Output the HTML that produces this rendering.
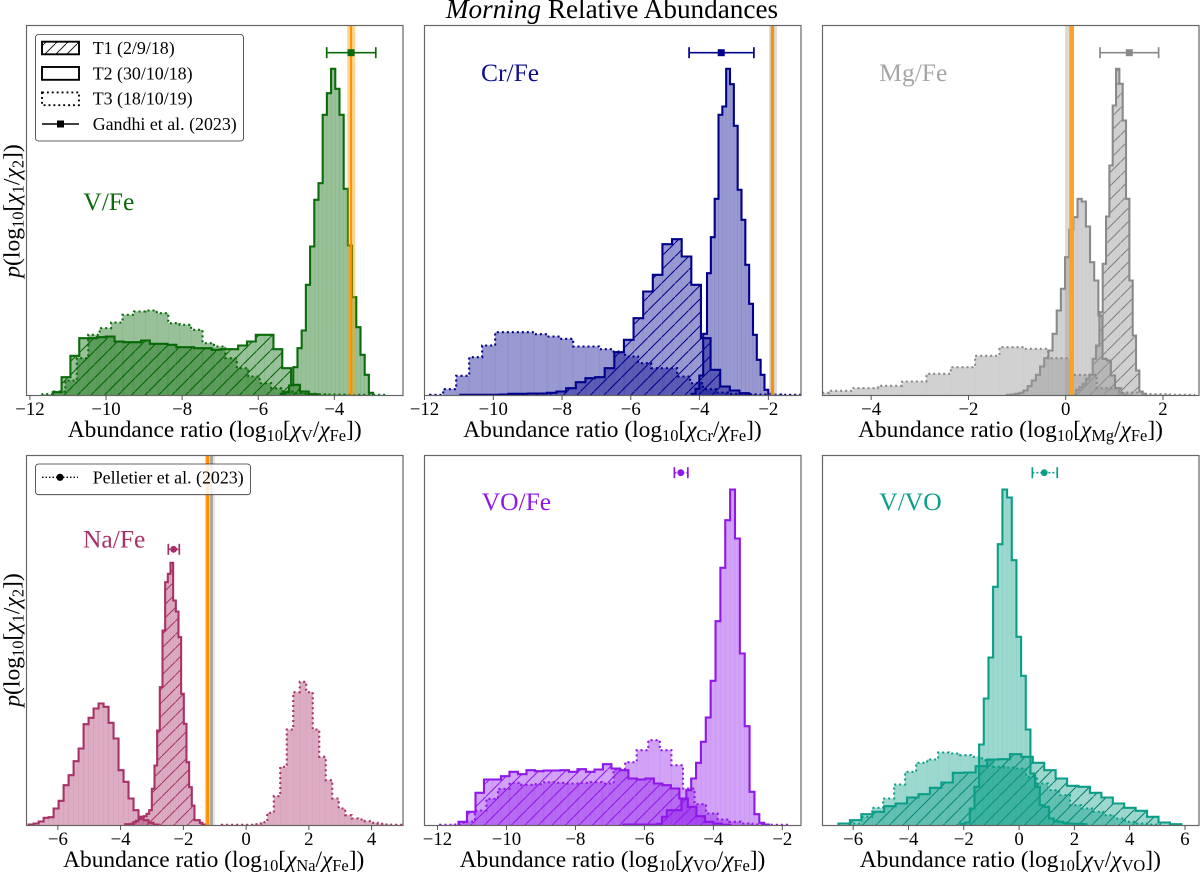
<!DOCTYPE html>
<html lang="en">
<head>
<meta charset="utf-8">
<title>Morning Relative Abundances</title>
<style>
html,body{margin:0;padding:0;background:#fff;}
svg{display:block;font-family:"Liberation Serif","DejaVu Serif",serif;}
</style>
</head>
<body>
<svg id="figure" xmlns="http://www.w3.org/2000/svg" width="1200" height="873" viewBox="0 0 1200 873">
  <defs>
    <pattern id="hatch-black" patternUnits="userSpaceOnUse" width="11" height="11"><path d="M-1 12L12 -1" stroke="#000" stroke-width="0.9" fill="none"/></pattern>
  </defs>
  <rect width="1200" height="873" fill="#fff"/>
  <text x="612" y="18" text-anchor="middle" font-size="27.2" fill="#000"><tspan font-style="italic">Morning</tspan> Relative Abundances</text>
  <g id="panels"></g>

  <g font-size="23.4" fill="#000" text-anchor="middle">
    <text x="214.7" y="437">Abundance ratio (log<tspan font-size="16.4" dy="4">10</tspan><tspan dy="-4">[</tspan><tspan font-style="italic">χ</tspan><tspan font-size="16.4" dy="4">V</tspan><tspan dy="-4">/</tspan><tspan font-style="italic">χ</tspan><tspan font-size="16.4" dy="4">Fe</tspan><tspan dy="-4">])</tspan></text>
    <text x="612.5" y="437">Abundance ratio (log<tspan font-size="16.4" dy="4">10</tspan><tspan dy="-4">[</tspan><tspan font-style="italic">χ</tspan><tspan font-size="16.4" dy="4">Cr</tspan><tspan dy="-4">/</tspan><tspan font-style="italic">χ</tspan><tspan font-size="16.4" dy="4">Fe</tspan><tspan dy="-4">])</tspan></text>
    <text x="1010.5" y="437">Abundance ratio (log<tspan font-size="16.4" dy="4">10</tspan><tspan dy="-4">[</tspan><tspan font-style="italic">χ</tspan><tspan font-size="16.4" dy="4">Mg</tspan><tspan dy="-4">/</tspan><tspan font-style="italic">χ</tspan><tspan font-size="16.4" dy="4">Fe</tspan><tspan dy="-4">])</tspan></text>
    <text x="213.7" y="867">Abundance ratio (log<tspan font-size="16.4" dy="4">10</tspan><tspan dy="-4">[</tspan><tspan font-style="italic">χ</tspan><tspan font-size="16.4" dy="4">Na</tspan><tspan dy="-4">/</tspan><tspan font-style="italic">χ</tspan><tspan font-size="16.4" dy="4">Fe</tspan><tspan dy="-4">])</tspan></text>
    <text x="612.5" y="867">Abundance ratio (log<tspan font-size="16.4" dy="4">10</tspan><tspan dy="-4">[</tspan><tspan font-style="italic">χ</tspan><tspan font-size="16.4" dy="4">VO</tspan><tspan dy="-4">/</tspan><tspan font-style="italic">χ</tspan><tspan font-size="16.4" dy="4">Fe</tspan><tspan dy="-4">])</tspan></text>
    <text x="1010.3" y="867">Abundance ratio (log<tspan font-size="16.4" dy="4">10</tspan><tspan dy="-4">[</tspan><tspan font-style="italic">χ</tspan><tspan font-size="16.4" dy="4">V</tspan><tspan dy="-4">/</tspan><tspan font-style="italic">χ</tspan><tspan font-size="16.4" dy="4">VO</tspan><tspan dy="-4">])</tspan></text>
  </g>
  <g font-size="23.6" fill="#000" text-anchor="middle">
    <text transform="translate(19.5,211) rotate(-90)"><tspan font-style="italic">p</tspan>(log<tspan font-size="16.4" dy="4">10</tspan><tspan dy="-4">[</tspan><tspan font-style="italic">χ</tspan><tspan font-size="16.4" dy="4">1</tspan><tspan dy="-4">/</tspan><tspan font-style="italic">χ</tspan><tspan font-size="16.4" dy="4">2</tspan><tspan dy="-4">])</tspan></text>
    <text transform="translate(19.5,640) rotate(-90)"><tspan font-style="italic">p</tspan>(log<tspan font-size="16.4" dy="4">10</tspan><tspan dy="-4">[</tspan><tspan font-style="italic">χ</tspan><tspan font-size="16.4" dy="4">1</tspan><tspan dy="-4">/</tspan><tspan font-style="italic">χ</tspan><tspan font-size="16.4" dy="4">2</tspan><tspan dy="-4">])</tspan></text>
  </g>

  <g font-size="17.9" fill="#000">
    <rect x="35.5" y="34.5" width="208" height="106.5" rx="3" fill="#fff" fill-opacity="0.85" stroke="#333" stroke-width="0.8"/>
    <rect x="42" y="41.7" width="37" height="12.6" fill="url(#hatch-black)" stroke="#000" stroke-width="1.9"/>
    <text x="92.7" y="54">T1 (2/9/18)</text>
    <rect x="42" y="67" width="37" height="12.8" fill="none" stroke="#000" stroke-width="1.9"/>
    <text x="92.7" y="79.3">T2 (30/10/18)</text>
    <rect x="42" y="92.4" width="37" height="12.8" fill="none" stroke="#000" stroke-width="1.9" stroke-dasharray="1.9 3"/>
    <text x="92.7" y="104.7">T3 (18/10/19)</text>
    <line x1="42" x2="79" y1="124" y2="124" stroke="#000" stroke-width="1.4"/>
    <rect x="57" y="120.5" width="7" height="7" fill="#000"/>
    <text x="92.7" y="130">Gandhi et al. (2023)</text>
  </g>
  <g font-size="17.9" fill="#000">
    <rect x="35.5" y="464" width="215" height="30.7" rx="3" fill="#fff" fill-opacity="0.85" stroke="#333" stroke-width="0.8"/>
    <line x1="42" x2="78" y1="477.3" y2="477.3" stroke="#000" stroke-width="1.4" stroke-dasharray="1.5 2"/>
    <circle cx="60" cy="477.3" r="3.6" fill="#000"/>
    <text x="92.7" y="483.3">Pelletier et al. (2023)</text>
  </g>
</svg>
<script>
// ---- V/Fe ----
const vFeDomain = [-12.09, -2.195];
const vFeTicks = [-12, -10, -8, -6, -4];
const vFeT1Bins = [-11.40, 0.232];
const vFeT1 = [10,55,119,172,172,175,177,162,160,160,165,155,155,152,145,145,142,142,137,139,139,150,162,182,182,139,82,32,12,4];
const vFeT2Bins = [-5.41, 0.1104];
const vFeT2 = [5,10,30,85,142,195,332,447,587,637,842,907,980,920,842,620,450,295,205,122,62,8];
const vFeT3Bins = [-11.67, 0.3005];
const vFeT3 = [4,12,45,112,182,202,219,242,252,255,247,217,212,197,157,147,112,82,57,37,22,12,8,5,4,3,3,2,2,2];
const vFeBandRanges = [[-3.66, -3.45], [-3.587, -3.535]];
const vFeBandColors = ['#ffa500', '#ff8c00'];
const vFeBandOpacities = [0.45, 0.95];
const vFeRetrieval = [-4.2, -3.56, -2.91];

// ---- Cr/Fe ----
const crFeDomain = [-12, -1.05];
const crFeTicks = [-12, -10, -8, -6, -4, -2];
const crFeT1Bins = [-10.96, 0.28];
const crFeT1 = [2,2,2,2,3,5,5,6,6,8,12,22,40,52,55,82,130,167,232,312,362,454,469,417,332,172,77,27,15,7];
const crFeT2Bins = [-4.229, 0.1114];
const crFeT2 = [5,20,60,185,367,475,590,842,867,980,934,809,617,527,392,275,182,107,62,17,5];
const crFeT3Bins = [-11.835, 0.378];
const crFeT3 = [2,19,59,115,150,190,190,190,184,177,170,147,147,139,132,117,97,82,82,57,37,19,9,5,4,3,3,2,2];
const crFeBandRanges = [[-1.98, -1.75], [-1.93, -1.83]];
const crFeBandColors = ['#999999', '#f0900f'];
const crFeBandOpacities = [0.35, 0.95];
const crFeRetrieval = [-4.305, -3.37, -2.42];

// ---- Mg/Fe ----
const mgFeDomain = [-5, 2.74];
const mgFeTicks = [-4, -2, 0, 2];
const mgFeT1Bins = [0.144, 0.0685];
const mgFeT1 = [3,17,25,35,50,62,110,150,250,395,537,690,870,980,935,825,590,345,180,75,12,5];
const mgFeT2Bins = [-1.212, 0.0856];
const mgFeT2 = [2,3,5,8,15,28,45,62,87,112,135,185,255,320,415,497,535,590,582,507,400,345,240,110,105,60,22,7,2];
const mgFeT3Bins = [-5.363, 0.5];
const mgFeT3 = [8,14,22,29,42,65,85,119,145,140,112,62,22,9,4,2];
const mgFeBandRanges = [[-0.014, 0.17], [0.074, 0.17]];
const mgFeBandColors = ['#999999', '#ffa01e'];
const mgFeBandOpacities = [0.35, 0.95];
const mgFeRetrieval = [0.705, 1.307, 1.91];

// ---- Na/Fe ----
const naFeDomain = [-7, 5];
const naFeTicks = [-6, -4, -2, 0, 2, 4];
const naFeT1Bins = [-3.854, 0.0849];
const naFeT1 = [4,4,5,10,14,20,26,28,35,46,110,180,285,415,585,730,755,788,675,642,565,395,305,190,115,60,16,16,8,3];
const naFeT2Bins = [-6.932, 0.1592];
const naFeT2 = [3,6,12,23,25,51,74,121,151,193,231,304,323,351,366,356,308,261,166,131,81,46,26,16,8,3];
const naFeT3Bins = [-0.775, 0.207];
const naFeT3 = [2,2,2,2,2,4,10,38,88,176,288,400,431,400,288,206,136,81,51,31,21,18,13,8,5,3,2,2];
const naFeBandRanges = [[-1.146, -0.987], [-1.146, -1.06], [-1.315, -1.146], [-1.275, -1.18]];
const naFeBandColors = ['#aaaaaa', '#888888', '#ffa500', '#ff8c00'];
const naFeBandOpacities = [0.3, 0.7, 0.5, 0.95];
const naFeRetrieval = [-2.48, -2.31, -2.13];

// ---- VO/Fe ----
const voFeDomain = [-12.377, -1.458];
const voFeTicks = [-12, -10, -8, -6, -4, -2];
const voFeT1Bins = [-11.391, 0.2464];
const voFeT1 = [11,41,98,138,138,148,161,154,166,163,165,165,166,161,169,161,168,184,171,166,141,138,141,126,121,111,81,56,28,11,6,2];
const voFeT2Bins = [-6.618, 0.1411];
const voFeT2 = [3,3,3,3,3,3,3,5,26,46,46,46,80,106,141,188,251,324,434,613,773,916,1008,861,516,298,101,34,8,3];
const voFeT3Bins = [-11.923, 0.3353];
const voFeT3 = [2,3,12,45,80,110,128,122,124,130,128,126,128,130,126,168,190,226,256,226,181,111,64,36,18,11,6,3,2,2];
const voFeBandRanges = [];
const voFeBandColors = [];
const voFeBandOpacities = [];
const voFeRetrieval = [-5.13, -4.945, -4.74];

// ---- V/VO ----
const vVoDomain = [-7.108, 6.506];
const vVoTicks = [-6, -4, -2, 0, 2, 4, 6];
const vVoT1Bins = [-6.53, 0.4133];
const vVoT1 = [6,16,34,41,58,66,84,94,113,129,158,159,178,198,199,214,206,188,166,141,119,116,98,84,66,53,44,26,9,4];
const vVoT2Bins = [-2.12, 0.1687];
const vVoT2 = [5,9,51,116,243,381,504,716,844,1008,984,796,566,449,288,156,116,61,56,21,13,11,8,6,5,5,4];
const vVoT3Bins = [-6.108, 0.3976];
const vVoT3 = [6,26,53,81,123,161,188,198,219,216,211,206,196,176,174,171,146,126,106,91,61,51,41,31,21,11,6,3];
const vVoBandRanges = [];
const vVoBandColors = [];
const vVoBandOpacities = [];
const vVoRetrieval = [0.48, 0.91, 1.38];

const densityMax = 1110;
const NS = 'http://www.w3.org/2000/svg';
const root = document.getElementById('panels');
const defs = document.querySelector('#figure defs');

function make(tag, attrs, parent) {
  const el = document.createElementNS(NS, tag);
  for (const k in attrs) el.setAttribute(k, attrs[k]);
  parent.appendChild(el);
  return el;
}

function drawHistogram(g, key, bins, values, xScale, yScale, p, kind) {
  const start = bins[0], width = bins[1];
  const series = make('g', {}, g);
  
  
  const base = yScale(0);
  let d = 'M' + xScale(start).toFixed(2) + ' ' + base;
  values.forEach(function (v, i) {
    const x0 = xScale(start + i * width), x1 = xScale(start + (i + 1) * width), y = yScale(v);
    const bar = make('rect', {x: x0.toFixed(2), y: y.toFixed(2), width: (x1 - x0).toFixed(2), height: (base - y).toFixed(2), fill: p.fill, 'fill-opacity': p.alpha, stroke: p.fill, 'stroke-opacity': 0.07, 'stroke-width': 0.6}, series);
    
    
    d += 'L' + x0.toFixed(2) + ' ' + y.toFixed(2) + 'L' + x1.toFixed(2) + ' ' + y.toFixed(2);
  });
  d += 'L' + xScale(start + values.length * width).toFixed(2) + ' ' + base;
  if (kind === 'hatched') {
    const hatch = make('path', {d: d + 'Z', fill: 'url(#hatch-' + p.key + ')', stroke: 'none'}, series);
    
    
  }
  const attrs = {d: d, fill: 'none', stroke: p.line, 'stroke-width': 2.1, 'stroke-linejoin': 'miter'};
  if (kind === 'dotted') attrs['stroke-dasharray'] = '2 3';
  const outline = make('path', attrs, series);
  
  
}

function drawPanel(p) {
  const W = 376.5, H = 370;
  const xScale = function (v) { return p.left + (v - p.domain[0]) / (p.domain[1] - p.domain[0]) * W; };
  const yScale = function (v) { return p.top + H - v / densityMax * H; };
  const pat = make('pattern', {id: 'hatch-' + p.key, patternUnits: 'userSpaceOnUse', width: 13.5, height: 13.5}, defs);
  make('path', {d: 'M-1 14.5L14.5 -1', stroke: p.hatch, 'stroke-width': 1, fill: 'none'}, pat);
  const clip = make('clipPath', {id: 'clip-' + p.key}, defs);
  make('rect', {x: p.left, y: p.top, width: W, height: H}, clip);

  const g = make('g', {}, root);
  
  
  const plot = make('g', {'clip-path': 'url(#clip-' + p.key + ')'}, g);
  
  

  drawHistogram(plot, 't1', p.t1Bins, p.t1, xScale, yScale, p, 'hatched');
  drawHistogram(plot, 't2', p.t2Bins, p.t2, xScale, yScale, p, 'solid');
  drawHistogram(plot, 't3', p.t3Bins, p.t3, xScale, yScale, p, 'dotted');

  p.bands.forEach(function (b, i) {
    const band = make('rect', {x: xScale(b[0]).toFixed(2), y: p.top, width: (xScale(b[1]) - xScale(b[0])).toFixed(2), height: H, fill: p.bandColors[i], 'fill-opacity': p.bandOpacities[i]}, plot);
    
    
  });

  const frame = make('rect', {x: p.left, y: p.top, width: W, height: H, fill: 'none', stroke: '#666', 'stroke-width': 1.2}, g);
  
  

  p.ticks.forEach(function (t) {
    const x = xScale(t);
    const tick = make('line', {x1: x, x2: x, y1: p.top + H, y2: p.top + H + 4.5, stroke: '#444', 'stroke-width': 0.9}, g);
    
    
    const label = make('text', {x: x, y: p.top + H + 19.5, 'text-anchor': 'middle', 'font-size': 18.8, fill: '#000'}, g);
    
    
    label.textContent = String(t).replace('-', '\u2212');
  });

  const e = p.retrieval, y = p.errorY;
  const bar = make('g', {stroke: p.line, fill: p.line}, g);
  
  
  const lineAttrs = {x1: xScale(e[0]), x2: xScale(e[2]), y1: y, y2: y, 'stroke-width': 1.7};
  if (p.errorDotted) lineAttrs['stroke-dasharray'] = '2 2';
  make('line', lineAttrs, bar);
  make('line', {x1: xScale(e[0]), x2: xScale(e[0]), y1: y - 5.5, y2: y + 5.5, 'stroke-width': 1.7}, bar);
  make('line', {x1: xScale(e[2]), x2: xScale(e[2]), y1: y - 5.5, y2: y + 5.5, 'stroke-width': 1.7}, bar);
  if (p.errorDotted) {
    make('circle', {cx: xScale(e[1]), cy: y, r: 3.4, stroke: 'none'}, bar);
  } else {
    make('rect', {x: xScale(e[1]) - 3.5, y: y - 3.5, width: 7, height: 7, stroke: 'none'}, bar);
  }

  const name = make('text', {x: p.labelX, y: p.labelY, 'font-size': 25.5, fill: p.text}, g);
  
  
  name.textContent = p.label;
}

drawPanel({key:'v-fe', label:'V/Fe', left:26.5, top:25.5, fill:'#006400', line:'#0a6b0a', hatch:'#006400', text:'#0b6a0b', alpha:0.4, domain:vFeDomain, ticks:vFeTicks, t1:vFeT1, t1Bins:vFeT1Bins, t2:vFeT2, t2Bins:vFeT2Bins, t3:vFeT3, t3Bins:vFeT3Bins, bands:vFeBandRanges, bandColors:vFeBandColors, bandOpacities:vFeBandOpacities, retrieval:vFeRetrieval, errorY:52.7, errorDotted:false, labelX:83.3, labelY:210});
drawPanel({key:'cr-fe', label:'Cr/Fe', left:424.5, top:25.5, fill:'#00008b', line:'#00008b', hatch:'#00008b', text:'#10108f', alpha:0.4, domain:crFeDomain, ticks:crFeTicks, t1:crFeT1, t1Bins:crFeT1Bins, t2:crFeT2, t2Bins:crFeT2Bins, t3:crFeT3, t3Bins:crFeT3Bins, bands:crFeBandRanges, bandColors:crFeBandColors, bandOpacities:crFeBandOpacities, retrieval:crFeRetrieval, errorY:52.7, errorDotted:false, labelX:481, labelY:81});
drawPanel({key:'mg-fe', label:'Mg/Fe', left:822.5, top:25.5, fill:'#9a9a9a', line:'#8a8a8a', hatch:'#808080', text:'#a6a6a6', alpha:0.45, domain:mgFeDomain, ticks:mgFeTicks, t1:mgFeT1, t1Bins:mgFeT1Bins, t2:mgFeT2, t2Bins:mgFeT2Bins, t3:mgFeT3, t3Bins:mgFeT3Bins, bands:mgFeBandRanges, bandColors:mgFeBandColors, bandOpacities:mgFeBandOpacities, retrieval:mgFeRetrieval, errorY:52.7, errorDotted:false, labelX:879.3, labelY:81});
drawPanel({key:'na-fe', label:'Na/Fe', left:26.5, top:455.5, fill:'#a83267', line:'#a83267', hatch:'#a83267', text:'#a83267', alpha:0.4, domain:naFeDomain, ticks:naFeTicks, t1:naFeT1, t1Bins:naFeT1Bins, t2:naFeT2, t2Bins:naFeT2Bins, t3:naFeT3, t3Bins:naFeT3Bins, bands:naFeBandRanges, bandColors:naFeBandColors, bandOpacities:naFeBandOpacities, retrieval:naFeRetrieval, errorY:549.3, errorDotted:true, labelX:83, labelY:547.3});
drawPanel({key:'vo-fe', label:'VO/Fe', left:424.5, top:455.5, fill:'#8f17ea', line:'#8f17ea', hatch:'#8f17ea', text:'#8f17ea', alpha:0.4, domain:voFeDomain, ticks:voFeTicks, t1:voFeT1, t1Bins:voFeT1Bins, t2:voFeT2, t2Bins:voFeT2Bins, t3:voFeT3, t3Bins:voFeT3Bins, bands:voFeBandRanges, bandColors:voFeBandColors, bandOpacities:voFeBandOpacities, retrieval:voFeRetrieval, errorY:472.7, errorDotted:true, labelX:481.7, labelY:510});
drawPanel({key:'v-vo', label:'V/VO', left:822.5, top:455.5, fill:'#0a9e87', line:'#0a9e87', hatch:'#067a68', text:'#0a9e87', alpha:0.4, domain:vVoDomain, ticks:vVoTicks, t1:vVoT1, t1Bins:vVoT1Bins, t2:vVoT2, t2Bins:vVoT2Bins, t3:vVoT3, t3Bins:vVoT3Bins, bands:vVoBandRanges, bandColors:vVoBandColors, bandOpacities:vVoBandOpacities, retrieval:vVoRetrieval, errorY:472.7, errorDotted:true, labelX:879.3, labelY:510});
</script>
</body>
</html>
